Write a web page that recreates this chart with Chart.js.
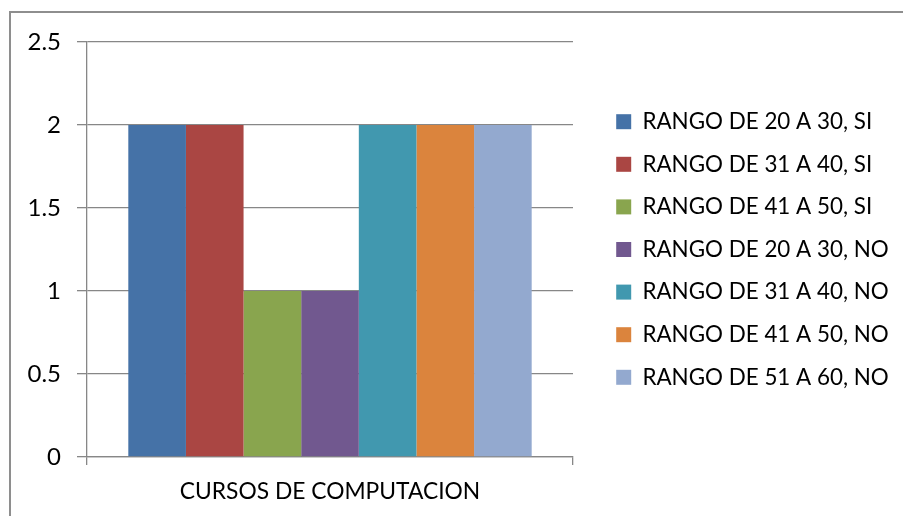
<!DOCTYPE html>
<html>
<head>
<meta charset="utf-8">
<script src="https://cdn.jsdelivr.net/npm/chart.js@4.4.1/dist/chart.umd.min.js"></script>
<style>
  html, body { margin: 0; padding: 0; background: #fff; overflow: hidden; }
  #wrap { position: relative; width: 903px; height: 516px; }
  #frame {
    position: absolute; left: 9px; top: 11px; width: 1000px; height: 600px;
    border-top: 2px solid #8e8e8e; border-left: 2px solid #8e8e8e;
  }
  canvas { position: absolute; left: 0; top: 0; }
</style>
</head>
<body>
<div id="wrap">
  <div id="frame"></div>
  <canvas id="chart" width="903" height="516"></canvas>
</div>
<script>
// data
const categories = ["CURSOS DE COMPUTACION"];
const seriesNames = [
  "RANGO DE 20 A 30, SI",
  "RANGO DE 31 A 40, SI",
  "RANGO DE 41 A 50, SI",
  "RANGO DE 20 A 30, NO",
  "RANGO DE 31 A 40, NO",
  "RANGO DE 41 A 50, NO",
  "RANGO DE 51 A 60, NO"
];
const seriesValues = [2, 2, 1, 1, 2, 2, 2];
const seriesColors = ["#4572A7", "#AA4643", "#89A54E", "#71588F", "#4198AF", "#DB843D", "#93A9CF"];
const yTicks = [0, 0.5, 1, 1.5, 2, 2.5];

const fontFamily = "Lato, 'Liberation Sans', sans-serif";
const axisGray = "#878787";
const legendWidth = 330;   // plot ends at x=573
const legendIndent = 23;   // first swatch sits at x=616

const datasets = seriesNames.map((name, i) => ({
  label: name,
  data: [seriesValues[i]],
  backgroundColor: seriesColors[i],
  borderWidth: 0
}));

// the legend would be capped at a quarter of the width, so force its size
const legendFit = {
  id: "legendFit",
  afterInit(chart) {
    const legend = chart.legend;
    const fit = legend.fit.bind(legend);
    legend.fit = () => {
      fit();
      legend.width = legendWidth;
    };
  },
  afterLayout(chart) {
    chart.legend.left += legendIndent;
    chart.legend.right += legendIndent;
  }
};

const ctx = document.getElementById("chart").getContext("2d");
new Chart(ctx, {
  type: "bar",
  data: { labels: categories, datasets },
  plugins: [legendFit],
  options: {
    responsive: false,
    animation: false,
    layout: { padding: { left: 0, right: 0, top: 42, bottom: 0 } },
    datasets: { bar: { categoryPercentage: 0.83, barPercentage: 1 } },
    plugins: {
      tooltip: { enabled: false },
      legend: {
        position: "right",
        align: "center",
        fullSize: false,
        labels: {
          boxWidth: 15,
          boxHeight: 15,
          padding: 20.2,
          color: "#000",
          font: { family: fontFamily, size: 22.4 }
        }
      }
    },
    scales: {
      x: {
        afterFit: (scale) => { scale.height = 59; },
        grid: { display: true, drawOnChartArea: false, tickLength: 8, color: axisGray, lineWidth: 1.3 },
        border: { color: axisGray, width: 1.3 },
        ticks: { color: "#000", padding: 13, font: { family: fontFamily, size: 22.8 } }
      },
      y: {
        min: 0,
        max: 2.5,
        afterFit: (scale) => { scale.width = 87; },
        afterBuildTicks: (scale) => { scale.ticks = yTicks.map((v) => ({ value: v })); },
        grid: { color: axisGray, lineWidth: 1.3, tickLength: 10 },
        border: { color: axisGray, width: 1.3 },
        ticks: {
          color: "#000",
          padding: 16,
          font: { family: fontFamily, size: 24 },
          callback: (v) => String(v)
        }
      }
    }
  }
});
</script>
</body>
</html>
